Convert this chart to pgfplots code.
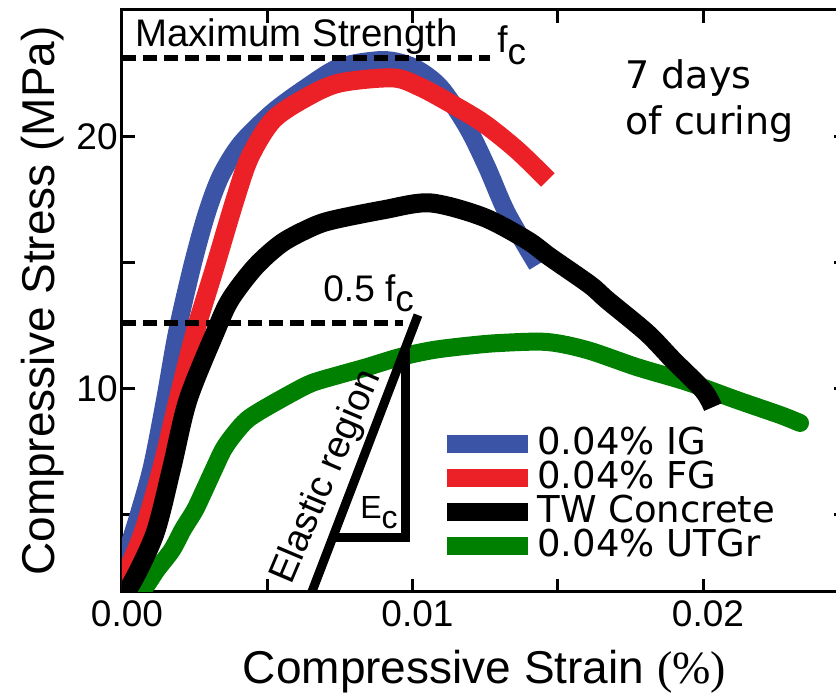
\documentclass[border=0pt]{standalone}
\usepackage{pgfplots}
\pgfplotsset{compat=1.18}
\usepackage{fontspec}
\setmainfont{Liberation Sans}
\newfontfamily\dejavu{DejaVu Sans}
\newfontfamily\lserif{Liberation Serif}
\definecolor{cblue}{RGB}{59,84,165}
\definecolor{cred}{RGB}{236,32,39}
\definecolor{cgreen}{RGB}{0,128,0}
\begin{document}
\begin{tikzpicture}
\begin{axis}[
  scale only axis,
  width=362.5pt, height=291pt,
  at={(0,0)}, anchor=south west,
  xmin=0, xmax=0.024957,
  ymin=1.909, ymax=25.05,
  axis line style={line width=1.5pt},
  every tick/.style={line width=1.5pt, black},
  major tick length=6.5pt,
  tick align=inside,
  xtick={0,0.005,0.01,0.015,0.02},
  xticklabels={0.00,,0.01,,0.02},
  ytick={5,10,15,20},
  yticklabels={,10,,20},
  xticklabel style={anchor=base, yshift=-17.5pt, xshift=2.5pt, font=\fontsize{18.5}{20}\selectfont, inner sep=0pt},
  yticklabel style={anchor=east, xshift=-2pt, font=\fontsize{18.5}{20}\selectfont, inner sep=0pt},
  scaled x ticks=false,
  xlabel={Compressive Strain {\lserif(\%)}},
  ylabel={Compressive Stress (MPa)},
  xlabel style={at={(axis description cs:0.5,-0.1564)}, anchor=base, font=\fontsize{23}{26}\selectfont},
  ylabel style={at={(axis description cs:-0.0925,0.5)}, anchor=base, font=\fontsize{23}{26}\selectfont},
  legend image code/.code={\draw[#1, line cap=butt] (0pt,0pt) -- (40.5pt,0pt);},
  legend cell align=left,
  legend style={at={(rel axis cs:0.4359,0.2835)}, anchor=north west, draw=none, fill=none, inner sep=0pt,
    font=\dejavu\fontsize{18.5}{18.5}\selectfont, row sep=0pt,
    nodes={inner ysep=0pt, inner xsep=0pt, text height=13.5pt, text depth=3.5pt},
    /tikz/every even column/.append style={column sep=4.5pt}},
]
% green (0.04% UTGr)
\addplot[cgreen, line width=9pt, line join=round, line cap=round, smooth, forget plot] coordinates {
(0.00045,1.91) (0.00079,2.11) (0.00120,2.80) (0.00172,3.58) (0.00210,4.40) (0.00251,5.17)
(0.00285,6.00) (0.00320,6.88) (0.00350,7.60) (0.00389,8.23) (0.00430,8.75) (0.00482,9.15)
(0.00585,9.82) (0.00654,10.22) (0.00750,10.55) (0.00843,10.85) (0.00957,11.25) (0.01071,11.53)
(0.01190,11.70) (0.01301,11.81) (0.01463,11.85) (0.01601,11.53) (0.01773,10.85)
(0.01945,10.26) (0.02117,9.54) (0.02265,8.95) (0.02334,8.63)};
% blue (0.04% IG)
\addplot[cblue, line width=9pt, line join=round, line cap=butt, smooth, forget plot] coordinates {
(0,2.19) (0.00010,3.18) (0.00055,4.89) (0.00103,6.88) (0.00148,9.54) (0.00189,12.21)
(0.00241,14.83) (0.00290,16.90) (0.00340,18.45) (0.00410,19.75) (0.00520,21.00)
(0.00637,21.99) (0.00750,22.78) (0.00898,23.06) (0.01002,22.78) (0.01095,21.99)
(0.01188,20.40) (0.01256,18.81) (0.01325,16.98) (0.01429,14.91)};
% red (0.04% FG)
\addplot[cred, line width=9.5pt, line join=round, line cap=butt, smooth, forget plot] coordinates {
(0,1.99) (0.00010,2.51) (0.00072,4.25) (0.00138,6.88) (0.00193,9.54) (0.00251,12.21)
(0.00320,14.83) (0.00389,17.50) (0.00440,19.20) (0.00520,20.68) (0.00637,21.59)
(0.00750,22.15) (0.00933,22.35) (0.01026,21.99) (0.01129,21.35) (0.01243,20.56)
(0.01360,19.48) (0.01466,18.29)};
% black (TW Concrete)
\addplot[black, line width=9.5pt, line join=round, line cap=butt, smooth, forget plot] coordinates {
(0,1.91) (0.00034,2.27) (0.00114,4.25) (0.00172,6.88) (0.00227,9.54) (0.00320,12.21)
(0.00372,13.52) (0.00458,14.83) (0.00551,15.79) (0.00654,16.42) (0.00726,16.70)
(0.00898,17.10) (0.01060,17.38) (0.01243,16.82) (0.01394,15.90) (0.01473,15.23)
(0.01611,14.12) (0.01670,13.52) (0.01807,12.21) (0.01897,11.13) (0.02000,9.94) (0.02034,9.26)};
% annotations
\draw[black, line width=3pt, dash pattern=on 7pt off 3.5pt] (axis cs:0,23.14) -- (axis cs:0.012668,23.14);
\draw[black, line width=3pt, dash pattern=on 7pt off 3.5pt] (axis cs:0,12.60) -- (axis cs:0.009673,12.60);
\node[anchor=base west, inner sep=0pt, font=\fontsize{19.2}{20}\selectfont] at (axis cs:0.000448,23.58) {Maximum Strength};
\node[anchor=base west, inner sep=0pt, font=\fontsize{18.5}{20}\selectfont] at (axis cs:0.012909,23.34) {f\raisebox{-6pt}{c}};
\node[anchor=base west, inner sep=0pt, font=\fontsize{18.5}{20}\selectfont] at (axis cs:0.006919,13.44) {0.5 f\raisebox{-5pt}{c}};
\draw[black, line width=4.5pt] (axis cs:0.006403,1.511) -- (axis cs:0.010189,12.92);
\draw[black, line width=4.5pt, line join=miter] (axis cs:0.009742,11.52) -- (axis cs:0.009742,4.056) -- (axis cs:0.007253,4.056);
\node[rotate=67, inner sep=0pt, font=\fontsize{19}{20}\selectfont] at (axis cs:0.007057,6.481) {Elastic region};
\node[anchor=base west, inner sep=0pt, font=\fontsize{16}{18}\selectfont] at (axis cs:0.008193,4.851) {E\raisebox{-5pt}{c}};
\node[anchor=base west, inner sep=0pt, align=left, font=\dejavu\fontsize{19}{23}\selectfont] at (axis cs:0.017315,20.08) {7 days\\of curing};
% legend
\addlegendimage{cblue, line width=9pt}
\addlegendentry{0.04\% IG}
\addlegendimage{cred, line width=9pt}
\addlegendentry{0.04\% FG}
\addlegendimage{black, line width=9pt}
\addlegendentry{TW Concrete}
\addlegendimage{cgreen, line width=9pt}
\addlegendentry{0.04\% UTGr}
\end{axis}
\pgfresetboundingbox
\path[use as bounding box] (-61pt,-51.5pt) rectangle (357pt,296pt);
\end{tikzpicture}
\end{document}
